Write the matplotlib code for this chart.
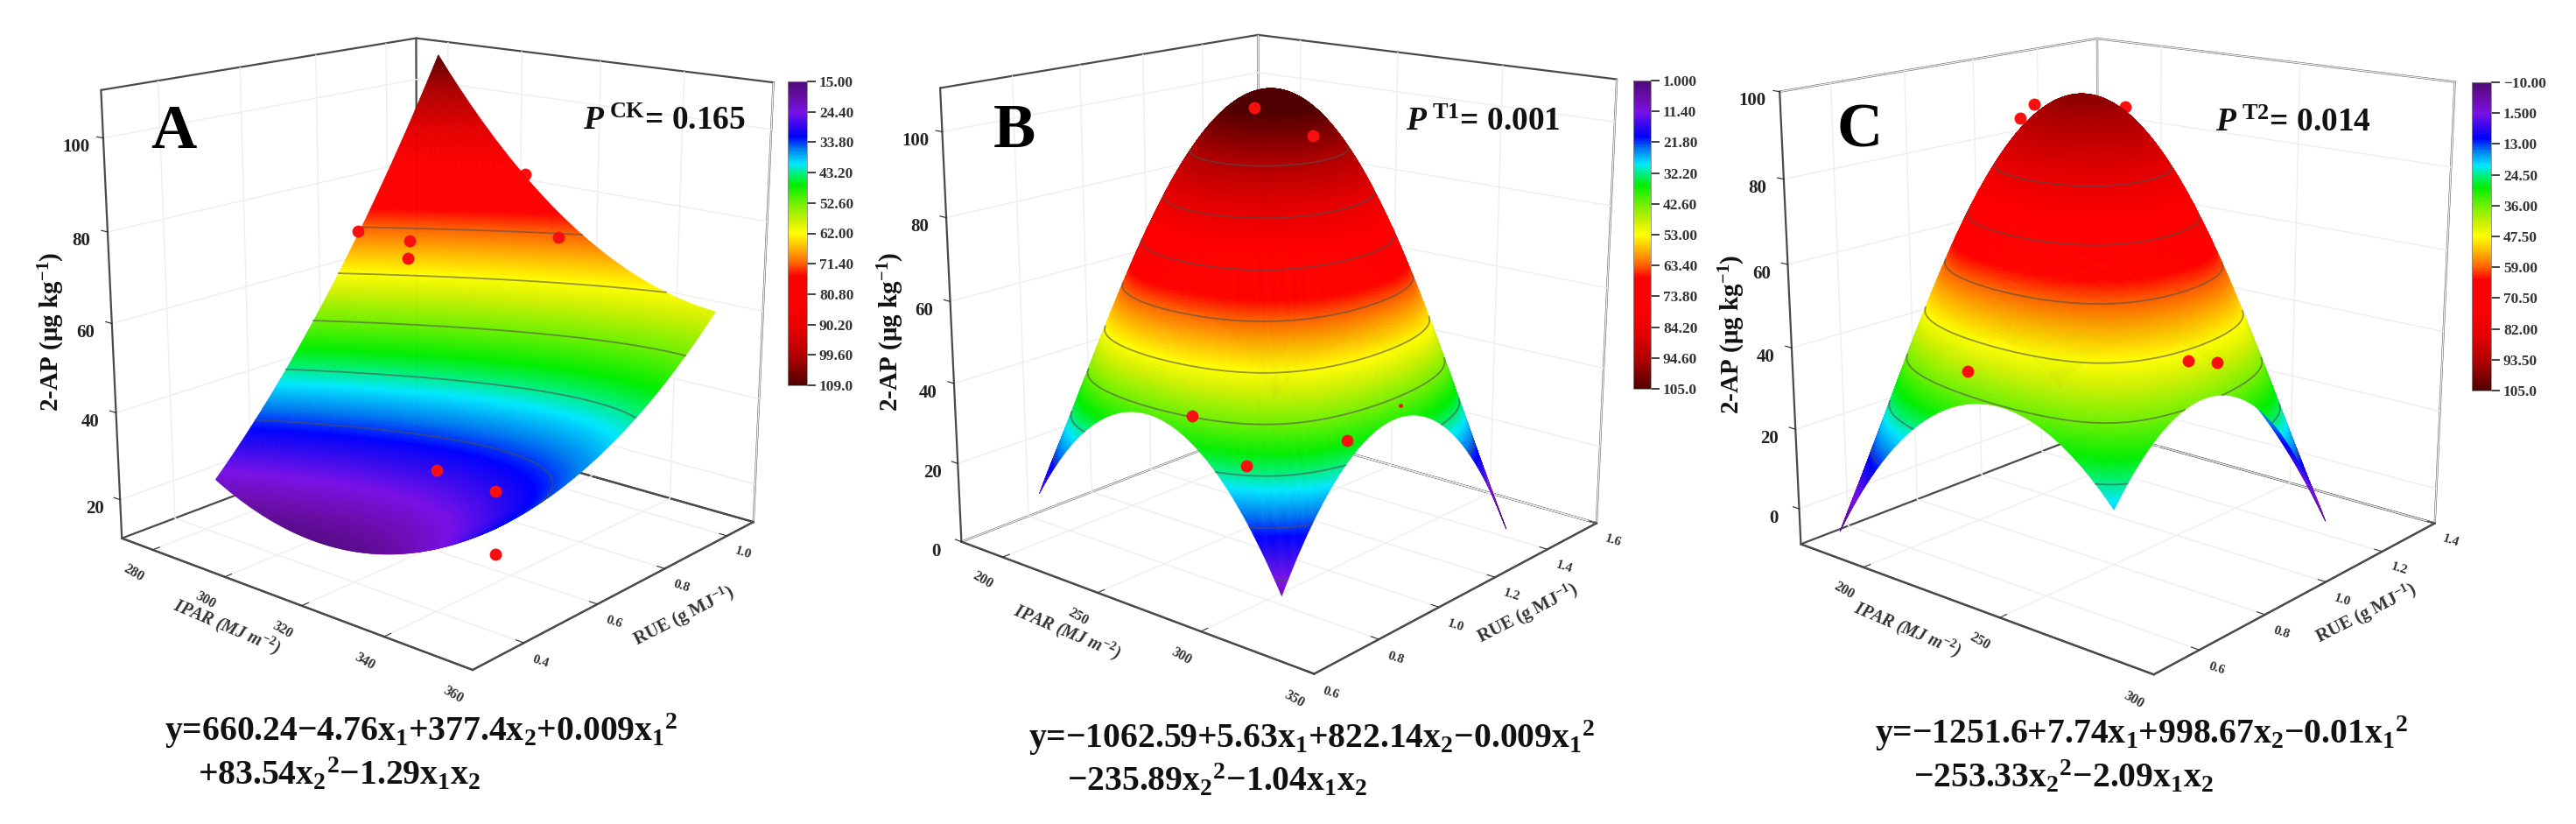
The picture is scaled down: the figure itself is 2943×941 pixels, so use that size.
import numpy as np
import contourpy
import matplotlib
matplotlib.use("Agg")
import matplotlib.pyplot as plt
from matplotlib.cm import ScalarMappable
from matplotlib.colors import LinearSegmentedColormap, Normalize

W, H = 2943, 941
plt.rcParams['font.family'] = ['Liberation Serif', 'DejaVu Sans']
plt.rcParams['font.weight'] = 'bold'
plt.rcParams['mathtext.fontset'] = 'custom'
plt.rcParams['mathtext.rm'] = 'Liberation Serif:bold'
plt.rcParams['mathtext.it'] = 'Liberation Serif:italic:bold'
plt.rcParams['mathtext.default'] = 'rm'
plt.rcParams['grid.color'] = '#eeeeee'
plt.rcParams['grid.linewidth'] = 1.0

# axis ranges and tick values
ipar_lim_a = (271, 360)
rue_lim_a = (0.27, 1.09)
ap_lim_a = (11, 110)
ipar_ticks_a = [280, 300, 320, 340, 360]
rue_ticks_a = [0.4, 0.6, 0.8, 1.0]
ap_ticks_a = [20, 40, 60, 80, 100]

ipar_lim_b = (177, 350)
rue_lim_b = (0.6, 1.6)
ap_lim_b = (0, 110)
ipar_ticks_b = [200, 250, 300, 350]
rue_ticks_b = [0.6, 0.8, 1.0, 1.2, 1.4, 1.6]
ap_ticks_b = [0, 20, 40, 60, 80, 100]

ipar_lim_c = (175, 300)
rue_lim_c = (0.47, 1.4)
ap_lim_c = (-9, 100)
ipar_ticks_c = [200, 250, 300]
rue_ticks_c = [0.6, 0.8, 1.0, 1.2, 1.4]
ap_ticks_c = [0, 20, 40, 60, 80, 100]

# colour bar scales
cbar_a = [15.00, 24.40, 33.80, 43.20, 52.60, 62.00, 71.40, 80.80, 90.20, 99.60, 109.0]
cbar_b = [1.000, 11.40, 21.80, 32.20, 42.60, 53.00, 63.40, 73.80, 84.20, 94.60, 105.0]
cbar_c = [-10.00, 1.500, 13.00, 24.50, 36.00, 47.50, 59.00, 70.50, 82.00, 93.50, 105.0]
cbar_labels_a = ['15.00', '24.40', '33.80', '43.20', '52.60', '62.00', '71.40', '80.80', '90.20', '99.60', '109.0']
cbar_labels_b = ['1.000', '11.40', '21.80', '32.20', '42.60', '53.00', '63.40', '73.80', '84.20', '94.60', '105.0']
cbar_labels_c = ['\u221210.00', '1.500', '13.00', '24.50', '36.00', '47.50', '59.00', '70.50', '82.00', '93.50', '105.0']

# contour heights on each surface
levels_a = [33.8, 43.2, 52.6, 62.0, 71.4]
levels_b = [11.4, 21.8, 32.2, 42.6, 53.0, 63.4, 73.8, 84.2, 94.6]
levels_c = [13.0, 24.5, 36.0, 47.5, 59.0, 70.5, 82.0]

# response surfaces (the printed equations do not
# reproduce what is drawn): IPAR centre/half width, RUE centre/half width, then
# c0 + c1 u + c2 v + c3 u^2 + c4 v^2 + c5 u v + c6 u^2 v^2 with u, v in -1..1
surf_a = [317.887, 35.28, 0.719, 0.313, 38.761, -9.679, 28.045, 10.686, 6.519, -14.374, 0.0]
surf_b = [261.506, 59.565, 1.096, 0.393, 108.401, -5.54, -2.289, -64.766, -69.717, -3.226, 34.489]
surf_c = [229.348, 49.693, 0.885, 0.339, 98.329, 2.837, -2.533, -65.905, -66.826, -10.875, 38.069]

# measured points
ipar_pts_a = [315.6, 322.7, 322.4, 343.2, 326.4, 334.7, 334.9]
rue_pts_a = [0.465, 0.521, 0.519, 0.683, 0.55, 0.616, 0.617]
ap_pts_a = [83.8, 81.7, 78.1, 82.6, 32.4, 27.7, 13.6]
ipar_back_a = [338.5]
rue_back_a = [0.645]
ap_back_a = [95.6]

ipar_pts_b = [278.4, 293.8, 261.1, 275.8, 303.6]
rue_pts_b = [0.911, 0.986, 0.826, 0.898, 1.035]
ap_pts_b = [108.3, 102.2, 37.3, 25.2, 31.5]
ipar_small_b = [318.0]
rue_small_b = [1.106]
ap_small_b = [39.9]

ipar_pts_c = [223.2, 266.7, 272.4]
rue_pts_c = [0.602, 0.875, 0.911]
ap_pts_c = [39.0, 41.5, 41.1]
ipar_back_c = [236.9, 234.2, 254.2]
rue_back_c = [0.688, 0.671, 0.796]
ap_back_c = [99.8, 96.7, 99.2]

cmap = LinearSegmentedColormap.from_list('rb', [
    (0.00, '#4d0a78'), (0.05, '#6a0ca8'), (0.10, '#7a10e6'), (0.15, '#2a08f0'),
    (0.18, '#0000ff'), (0.22, '#0078f0'), (0.27, '#00e8ff'), (0.31, '#00f060'),
    (0.34, '#00ee00'), (0.40, '#70f000'), (0.46, '#d0f000'), (0.50, '#ffff00'),
    (0.55, '#ffb400'), (0.60, '#ff6000'), (0.64, '#ff0000'), (0.74, '#ff0000'),
    (0.82, '#e40000'), (0.91, '#ac0000'), (1.00, '#500000')])

fig = plt.figure(figsize=(W/100, H/100), dpi=100)


def place(ax, s, tx, ty):
    # scale the axes so that view coordinates land where they should in pixels
    ax.set_position([0., 0., H/W, 1.])
    ax.apply_aspect()
    o = ax.transData.transform([[0, 0], [.1, .1]])
    r = s/((o[1, 0]-o[0, 0])/.1)
    ax.set_position([(tx-o[0, 0]*r)/W, ((H-ty)-o[0, 1]*r)/H, H*r/W, r])


def contours(ax, view, surf, xlim, ylim, zlim, levels, u, v, Z):
    # only the parts of each contour that face the camera are drawn
    c = surf[4:]
    box = np.asarray(ax._box_aspect, float)
    xr, yr, zr = xlim[1]-xlim[0], ylim[1]-ylim[0], zlim[1]-zlim[0]
    el, az = np.radians(view[0]), np.radians(view[1])
    ps = np.array([np.cos(el)*np.cos(az), np.cos(el)*np.sin(az), np.sin(el)])
    eye = box/2 + 10*view[2]*ps
    gen = contourpy.contour_generator(u, v, Z)
    for lev in levels:
        for seg in gen.lines(lev):
            a, b = seg[:, 0], seg[:, 1]
            x = surf[0]+surf[1]*a
            y = surf[2]+surf[3]*b
            z = np.full_like(a, lev)
            dx = (c[1]+2*c[3]*a+c[5]*b+2*c[6]*a*b*b)/surf[1]*xr/box[0]*box[2]/zr
            dy = (c[2]+2*c[4]*b+c[5]*a+2*c[6]*a*a*b)/surf[3]*yr/box[1]*box[2]/zr
            wx = (x-xlim[0])/xr*box[0]
            wy = (y-ylim[0])/yr*box[1]
            wz = (z-zlim[0])/zr*box[2]
            face = -dx*(eye[0]-wx)-dy*(eye[1]-wy)+(eye[2]-wz) > 0
            cuts = np.flatnonzero(np.diff(face.astype(int)))+1
            for i, j in zip(np.r_[0, cuts], np.r_[cuts, len(a)]):
                if face[i] and j-i > 1:
                    ax.plot(x[i:j], y[i:j], z[i:j], color='#505050', alpha=0.6,
                            linewidth=1.3, zorder=2.5)


def panel(view, s, tx, ty, xlim, ylim, zlim, xticks, yticks, zticks, surf, cvals, levels):
    ax = fig.add_axes([0, 0, H/W, 1], projection='3d', computed_zorder=False)
    ax.set_facecolor('none')
    ax.view_init(elev=view[0], azim=view[1])
    ax.set_proj_type('persp', focal_length=view[2])
    ax.set_box_aspect((1, view[3], view[4]))
    ax.set_xlim(*xlim)
    ax.set_ylim(*ylim)
    ax.set_zlim(*zlim)
    place(ax, s, tx, ty)

    ax.set_xticks(xticks)
    ax.set_yticks(yticks)
    ax.set_zticks(zticks)
    ax.set_xticklabels([str(t) for t in xticks], ha='right')
    ax.set_yticklabels(['%.1f' % t for t in yticks], ha='left')
    ax.set_zticklabels([str(t) for t in zticks])
    ax.tick_params(axis='x', labelsize=11.5, labelrotation=-30, pad=-1, colors='#333333')
    ax.tick_params(axis='y', labelsize=11, labelrotation=-18, pad=-2, colors='#333333')
    ax.tick_params(axis='z', labelsize=15, pad=5, colors='#222222')
    for a in (ax.xaxis, ax.yaxis, ax.zaxis):
        a.set_pane_color((1, 1, 1, 0))
        a.pane.set_alpha(None)
        a.pane.set_facecolor((1, 1, 1, 0))
        a.pane.set_edgecolor('#4a4a4a')
        a.pane.set_linewidth(1.6)
        a.line.set_color('#4a4a4a')
        a.line.set_linewidth(1.6)
        a._axinfo['tick']['inward_factor'] = 0
        a._axinfo['tick']['outward_factor'] = 0.25
    ax.zaxis._axinfo['juggled'] = (1, 2, 0)

    n = 320
    u, v = np.meshgrid(np.linspace(-1, 1, n), np.linspace(-1, 1, n), indexing='ij')
    X = surf[0]+surf[1]*u
    Y = surf[2]+surf[3]*v
    c = surf[4:]
    Z = c[0]+c[1]*u+c[2]*v+c[3]*u*u+c[4]*v*v+c[5]*u*v+c[6]*u*u*v*v
    fc = cmap(Normalize(cvals[0], cvals[-1])(Z))
    ax.plot_surface(X, Y, Z, facecolors=fc, rstride=1, cstride=1, shade=False,
                    linewidth=0.4, antialiased=True, zorder=2)
    contours(ax, view, surf, xlim, ylim, zlim, levels, u, v, Z)
    return ax


def dots(ax, x, y, z, size=100, zorder=3):
    ax.scatter(x, y, z, s=size, c='#f81010', depthshade=False, linewidths=0, zorder=zorder)


def colorbar(box, cvals, labels):
    x0, y0, x1, y1 = box
    cax = fig.add_axes([x0/W, 1-y1/H, (x1-x0)/W, (y1-y0)/H])
    cb = fig.colorbar(ScalarMappable(Normalize(cvals[0], cvals[-1]), cmap), cax=cax)
    cax.invert_yaxis()
    cb.set_ticks(cvals)
    cb.set_ticklabels(labels)
    cb.ax.tick_params(length=7, width=1.3, labelsize=12.5, colors='#333333', pad=3)
    cb.outline.set_edgecolor('#888888')
    cb.outline.set_linewidth(0.6)


def label(x, y, s, size, rot=0, ha='center', color='#111111', style='normal'):
    fig.text(x/W, 1-y/H, s, fontsize=size, rotation=rot, ha=ha, va='center',
             rotation_mode='anchor', color=color, style=style)


def labels(off, k, letter, lpos, pval, ppos, eq1, eq1pos, eq2, eq2pos, zpos, xpos, ypos):
    f = lambda p: (off+p[0]/k, p[1]/1.662)
    label(*f(lpos), letter, 52, color='black')
    label(*f(ppos), pval, 27)
    label(*f(eq1pos), eq1, 28.5, ha='left')
    label(*f(eq2pos), eq2, 28.5, ha='left')
    label(*f(zpos), '2-AP (\u03bcg kg$^{-1}$)', 21, rot=90)
    label(*f(xpos), 'IPAR (MJ m$^{-2}$)', 14.5, rot=-23, color='#333333', style='italic')
    label(*f(ypos), 'RUE (g MJ$^{-1}$)', 15, rot=27, color='#333333')


view_a = (15.942, -49.4, 0.482, 0.983, 0.99)
ax = panel(view_a, 4790.8, 503.7, 359.8,
           ipar_lim_a, rue_lim_a, ap_lim_a, ipar_ticks_a, rue_ticks_a, ap_ticks_a,
           surf_a, cbar_a, levels_a)
dots(ax, ipar_back_a, rue_back_a, ap_back_a, zorder=1)
dots(ax, ipar_pts_a, rue_pts_a, ap_pts_a)
colorbar((900, 93, 922, 440), cbar_a, cbar_labels_a)
labels(0, 1.6, 'A', (318, 252), '$\\mathit{P}$$^{\\ CK}$= 0.165', (1215, 230),
       'y=660.24\u22124.76x$_1$+377.4x$_2$+0.009x$_1$$^2$', (300, 1388),
       '+83.54x$_2$$^2$\u22121.29x$_1$x$_2$', (362, 1470),
       (95, 630), (415, 1190), (1250, 1170))

view_b = (16.04, -49.624, 0.481, 0.993, 1.0)
ax = panel(view_b, 4830.1, 1465.4, 359.8,
           ipar_lim_b, rue_lim_b, ap_lim_b, ipar_ticks_b, rue_ticks_b, ap_ticks_b,
           surf_b, cbar_b, levels_b)
dots(ax, ipar_pts_b, rue_pts_b, ap_pts_b)
dots(ax, ipar_small_b, rue_small_b, ap_small_b, size=12)
colorbar((1866, 92, 1886, 444), cbar_b, cbar_labels_b)
labels(980, 1.6, 'B', (287, 250), '$\\mathit{P}$$^{\\ T1}$= 0.001', (1143, 232),
       'y=\u22121062.59+5.63x$_1$+822.14x$_2$\u22120.009x$_1$$^2$', (312, 1400),
       '\u2212235.89x$_2$$^2$\u22121.04x$_1$x$_2$', (383, 1482),
       (60, 630), (382, 1200), (1225, 1165))

view_c = (15.955, -49.926, 0.48, 1.002, 1.001)
ax = panel(view_c, 4818.9, 2424.3, 362.2,
           ipar_lim_c, rue_lim_c, ap_lim_c, ipar_ticks_c, rue_ticks_c, ap_ticks_c,
           surf_c, cbar_c, levels_c)
dots(ax, ipar_back_c, rue_back_c, ap_back_c, zorder=1)
dots(ax, ipar_pts_c, rue_pts_c, ap_pts_c)
colorbar((2824, 94, 2846, 446), cbar_c, cbar_labels_c)
labels(1960, 1.595, 'C', (262, 250), '$\\mathit{P}$$^{\\ T2}$= 0.014', (1052, 233),
       'y=\u22121251.6+7.74x$_1$+998.67x$_2$\u22120.01x$_1$$^2$', (290, 1393),
       '\u2212253.33x$_2$$^2$\u22122.09x$_1$x$_2$', (360, 1475),
       (30, 635), (350, 1195), (1185, 1165))

fig.savefig('out.png', dpi=100)
